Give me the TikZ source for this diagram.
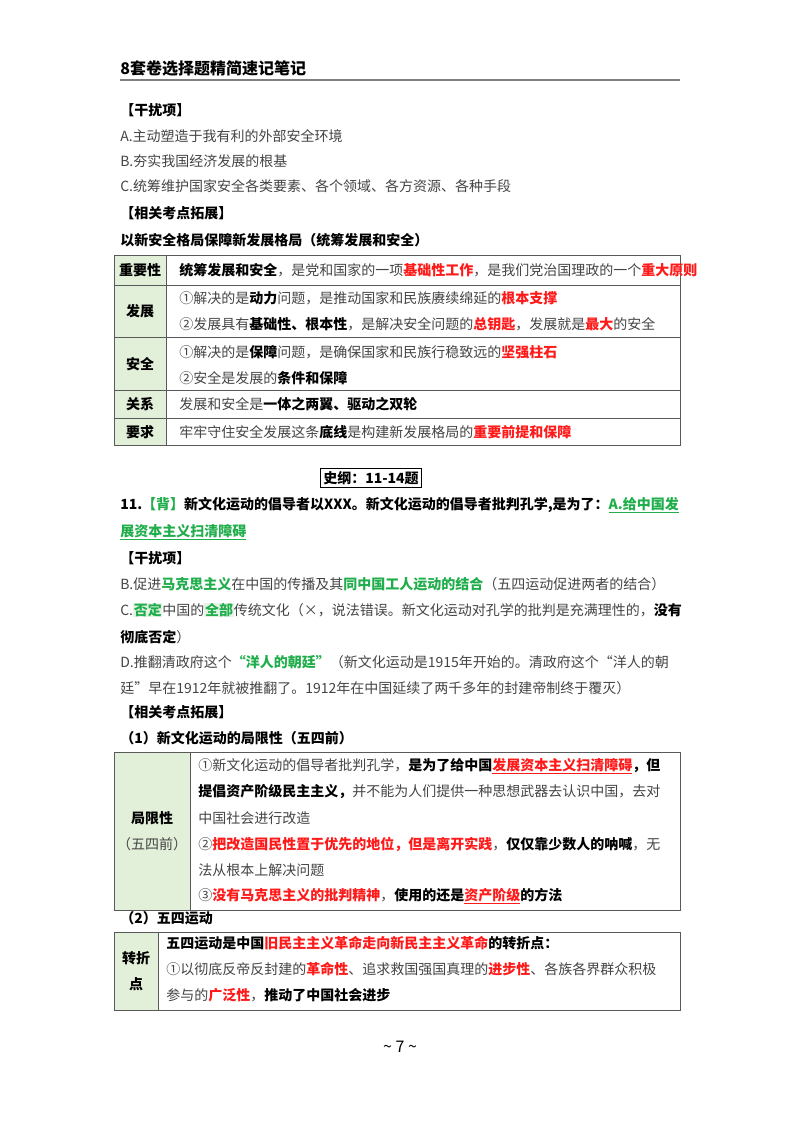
\documentclass[tikz,border=0pt]{standalone}
\usepackage{fontspec}
\setmainfont{Noto Sans CJK SC}
\newcommand{\uline}[1]{\underline{#1}}
\definecolor{gtx}{HTML}{444444}
\definecolor{rd}{HTML}{FF1A1A}
\definecolor{gn}{HTML}{1FAE4B}
\definecolor{lg}{HTML}{E2EFD9}
\definecolor{hl}{HTML}{E6F2E6}
\newcommand{\Rb}[1]{\textcolor{rd}{\bfseries #1}}
\newcommand{\Gb}[1]{\textcolor{gn}{\bfseries #1}}
\newcommand{\Kb}[1]{\textcolor{black}{\bfseries #1}}
\newcommand{\hlb}[1]{{\setlength{\fboxsep}{0.5pt}\colorbox{hl}{#1}}}
\begin{document}
\begin{tikzpicture}[x=0.75pt,y=-0.75pt,
  tx/.style={anchor=west,inner sep=0pt,font=\fontsize{10.5}{12}\selectfont,text=gtx},
  hd/.style={anchor=west,inner sep=0pt,font=\fontsize{10.5}{12}\selectfont\bfseries,text=black},
  lab/.style={inner sep=0pt,font=\fontsize{10.5}{13}\selectfont\bfseries,text=black},
  tb/.style={draw=gray!70!black,line width=0.7pt}]
\useasboundingbox (0,0) rectangle (800,1132);
\fill[white] (0,0) rectangle (800,1132);
% header
\node[hd,font=\fontsize{12}{14}\selectfont\bfseries] (h) at (120,68) {8套卷选择题精简速记笔记};
\draw[gray,line width=1.2pt] (120,80) -- (680,80);
\node[hd] (a1) at (120,110) {【干扰项】};
\node[tx] (a2) at (120,136) {A.主动塑造于我有利的外部安全环境};
\node[tx] (a3) at (120,161) {B.夯实我国经济发展的根基};
\node[tx] (a4) at (120,186) {C.统筹维护国家安全各类要素、各个领域、各方资源、各种手段};
\node[hd] (a5) at (120,213) {【相关考点拓展】};
\node[hd] (a6) at (120,240) {以新安全格局保障新发展格局（统筹发展和安全）};
% table 1
\fill[lg] (114,255) rectangle (166,445);
\draw[tb] (114,255) rectangle (680,445);
\draw[tb] (166,255) -- (166,445);
\foreach \yy in {285,337,390,418} \draw[tb] (114,\yy) -- (680,\yy);
\node[lab] (t1) at (140,270) {重要性};
\node[lab] (t2) at (140,311) {发展};
\node[lab] (t3) at (140,364) {安全};
\node[lab] (t4) at (140,404) {关系};
\node[lab] (t5) at (140,432) {要求};
\node[tx] (r1) at (179,270) {\Kb{统筹发展和安全}，是党和国家的一项\Rb{基础性工作}，是我们党治国理政的一个\Rb{重大原则}};
\node[tx] (r2) at (179,298) {①解决的是\Kb{动力}问题，是推动国家和民族赓续绵延的\Rb{根本支撑}};
\node[tx] (r3) at (179,324) {②发展具有\Kb{基础性、根本性}，是解决安全问题的\Rb{总钥匙}，发展就是\Rb{最大}的安全};
\node[tx] (r4) at (179,352) {①解决的是\Kb{保障}问题，是确保国家和民族行稳致远的\Rb{坚强柱石}};
\node[tx] (r5) at (179,378) {②安全是发展的\Kb{条件和保障}};
\node[tx] (r6) at (179,404) {发展和安全是\Kb{一体之两翼、驱动之双轮}};
\node[tx] (r7) at (179,432) {牢牢守住安全发展这条\Kb{底线}是构建新发展格局的\Rb{重要前提和保障}};
% section
\node[lab,draw=black,line width=0.8pt,inner sep=2pt] (sg) at (371,478) {史纲：11-14题};
\node[hd] (q1) at (120,505) {11.\textcolor{gn}{【背】}新文化运动的倡导者以XXX。新文化运动的倡导者批判孔学,是为了：\textcolor{gn}{\uline{A.给中国发}}};
\node[hd] (q2) at (120,532) {\textcolor{gn}{\uline{展资本主义扫清障碍}}};
\node[hd] (q3) at (120,558) {【干扰项】};
\node[tx] (q4) at (120,584) {B.促进\Gb{马克思主义}在中国的传播及其\Gb{同中国工人运动的结合}（五四运动促进两者的结合）};
\node[tx] (q5) at (120,610) {C.\hlb{\Gb{否定}}中国的\hlb{\Gb{全部}}传统文化（×，说法错误。新文化运动对孔学的批判是充满理性的，\Kb{没有}};
\node[tx] (q6) at (120,637) {\Kb{彻底否定}）};
\node[tx] (q7) at (120,662) {D.推翻清政府这个\Gb{“洋人的朝廷”}（新文化运动是1915年开始的。清政府这个“洋人的朝};
\node[tx] (q8) at (120,688) {廷”早在1912年就被推翻了。1912年在中国延续了两千多年的封建帝制终于覆灭）};
\node[hd] (q9) at (120,712) {【相关考点拓展】};
\node[hd] (q10) at (120,738) {（1）新文化运动的局限性（五四前）};
% table 2
\fill[lg] (114,752) rectangle (190,910);
\draw[tb] (114,752) rectangle (680,910);
\draw[tb] (190,752) -- (190,910);
\node[lab] (u1) at (152,818) {局限性};
\node[tx,anchor=center] (u2) at (152,844) {（五四前）};
\node[tx] (s1) at (198,766) {①新文化运动的倡导者批判孔学，\Kb{是为了给中国}\textcolor{rd}{\bfseries\uline{发展资本主义扫清障碍}}\Kb{，但}};
\node[tx] (s2) at (198,792) {\Kb{提倡资产阶级民主主义，}并不能为人们提供一种思想武器去认识中国，去对};
\node[tx] (s3) at (198,818) {中国社会进行改造};
\node[tx] (s4) at (198,844) {②\Rb{把改造国民性置于优先的地位，但是离开实践}，\Kb{仅仅靠少数人的呐喊}，无};
\node[tx] (s5) at (198,870) {法从根本上解决问题};
\node[tx] (s6) at (198,896) {③\Rb{没有马克思主义的批判精神}，\Kb{使用的还是}\textcolor{rd}{\bfseries\uline{资产阶级}}\Kb{的方法}};
\node[hd] (v0) at (120,918) {（2）五四运动};
% table 3
\fill[lg] (114,932) rectangle (158,1010);
\draw[tb] (114,932) rectangle (680,1010);
\draw[tb] (158,932) -- (158,1010);
\node[lab] (w1) at (136,958) {转折};
\node[lab] (w2) at (136,984) {点};
\node[tx] (x1) at (166,943) {\Kb{五四运动是中国}\Rb{旧民主主义革命走向新民主主义革命}\Kb{的转折点：}};
\node[tx] (x2) at (166,969) {①以彻底反帝反封建的\Rb{革命性}、追求救国强国真理的\Rb{进步性}、各族各界群众积极};
\node[tx] (x3) at (166,995) {参与的\Rb{广泛性}，\Kb{推动了中国社会进步}};
\node[inner sep=0pt,font=\fontsize{12}{14}\selectfont] (pg) at (400,1047) {\textasciitilde{} 7 \textasciitilde};
\end{tikzpicture}
\end{document}
